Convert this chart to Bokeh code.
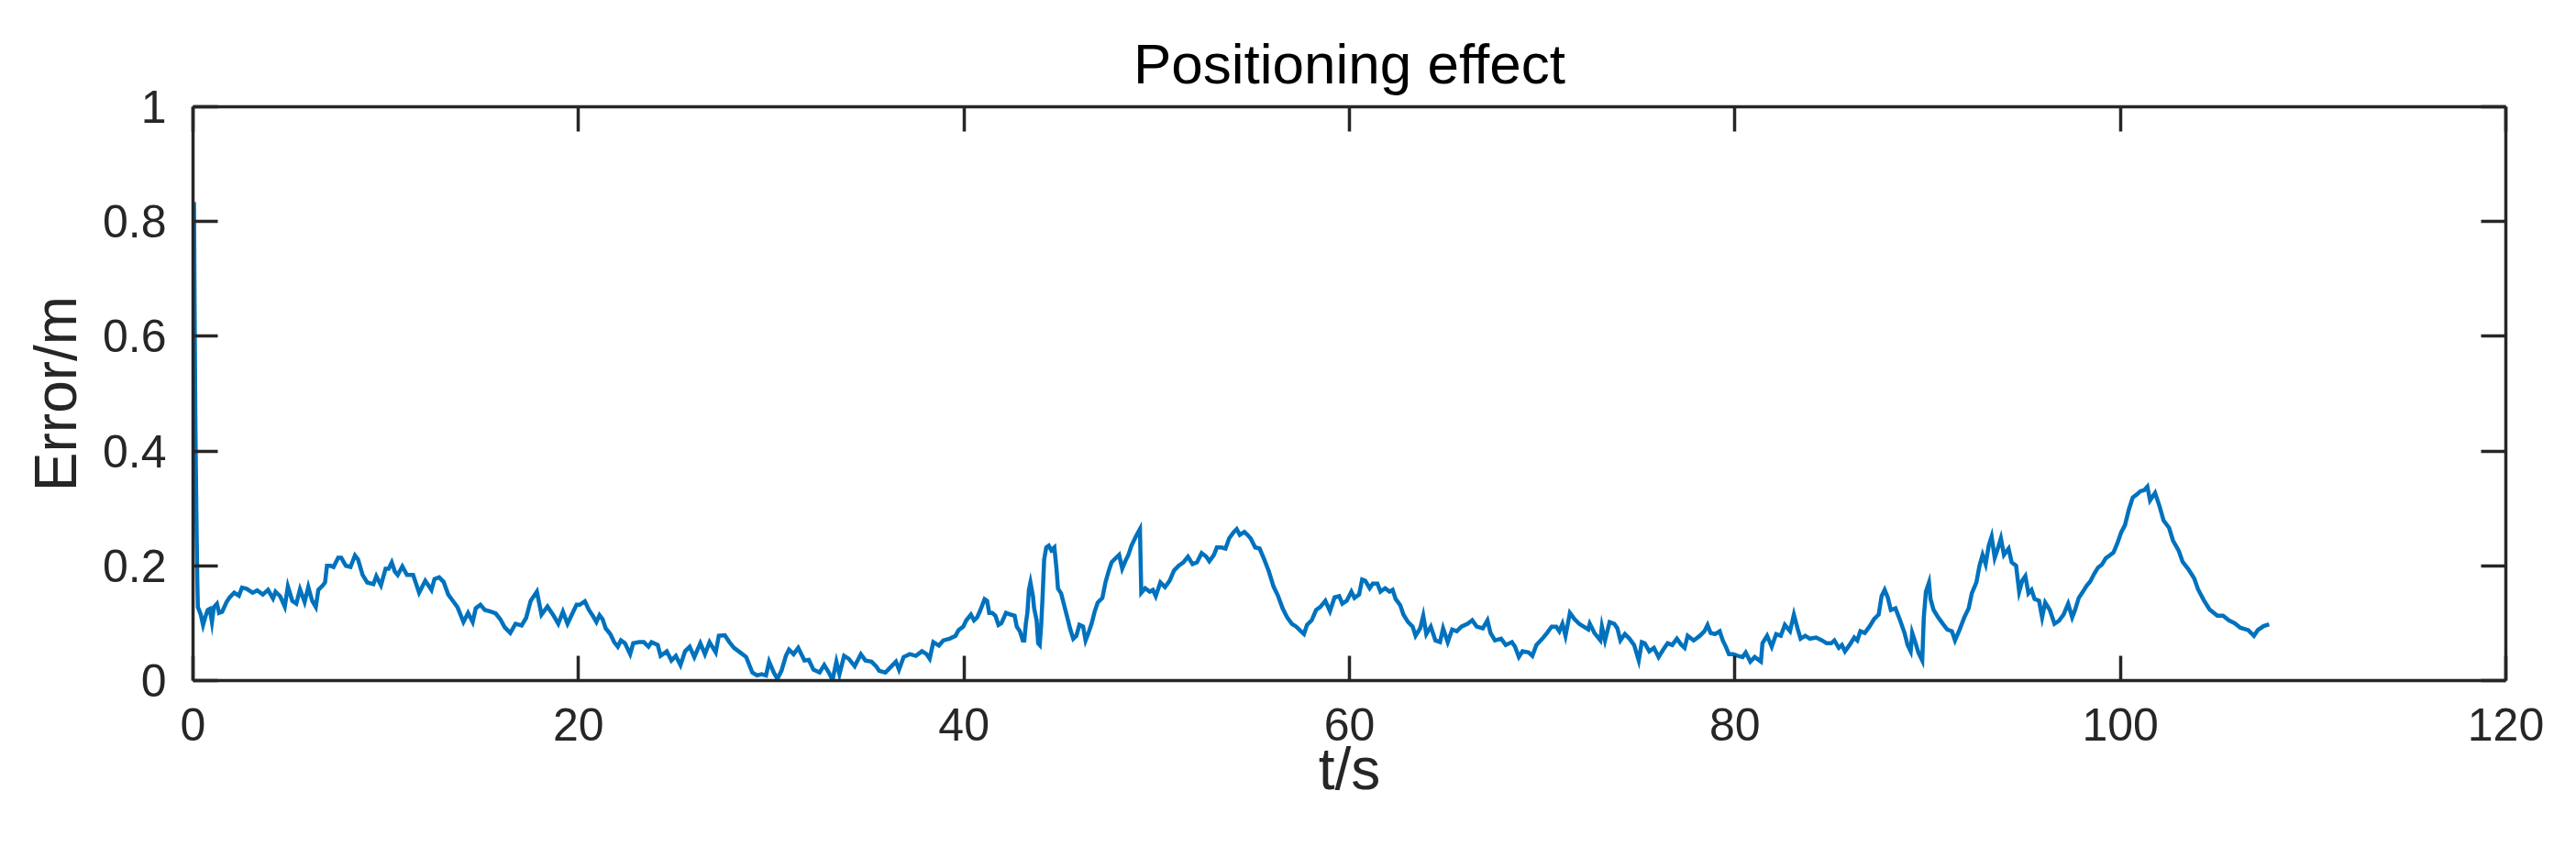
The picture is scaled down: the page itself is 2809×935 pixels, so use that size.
from bokeh.plotting import figure
from bokeh.models import Range1d, LinearAxis, FixedTicker, CustomJSTickFormatter, ColumnDataSource
from bokeh.embed import file_html
from bokeh.resources import INLINE

# ---- data (t in s, error in m) ----
seg_00_20 = [(0.05,0.834),(0.08,0.66),(0.12,0.46),(0.16,0.33),(0.19,0.25),(0.22,0.177),(0.25,0.128),
    (0.40,0.115),(0.52,0.097),(0.63,0.110),(0.76,0.123),(0.87,0.125),(0.98,0.102),(1.08,0.128),(1.24,0.134),
    (1.35,0.118),(1.51,0.120),(1.74,0.137),(1.90,0.145),(2.14,0.153),(2.38,0.148),(2.54,0.162),(2.78,0.160),
    (3.09,0.153),(3.33,0.157),(3.62,0.150),(3.89,0.158),(4.15,0.143),(4.28,0.155),(4.52,0.147),(4.76,0.129),
    (4.92,0.164),(5.15,0.139),(5.36,0.134),(5.55,0.159),(5.79,0.137),(5.98,0.163),(6.18,0.139),(6.37,0.128),
    (6.50,0.158),(6.74,0.166),(6.85,0.171),(6.95,0.200),(7.14,0.200),(7.29,0.198),(7.53,0.214),(7.69,0.214),
    (7.93,0.200),(8.17,0.198),(8.40,0.218),(8.56,0.211),(8.80,0.184),(9.04,0.171),(9.36,0.168),(9.51,0.182),
    (9.75,0.166),(9.99,0.195),(10.15,0.195),(10.31,0.206),(10.47,0.190),(10.62,0.184),(10.86,0.199),
    (11.10,0.184),(11.42,0.184),(11.73,0.153),(12.05,0.174),(12.37,0.158),(12.53,0.177),(12.77,0.180),
    (13.00,0.172),(13.24,0.150),(13.48,0.139),(13.72,0.128),(14.03,0.102),(14.27,0.118),(14.51,0.102),
    (14.67,0.126),(14.91,0.132),(15.14,0.123),(15.46,0.120),(15.70,0.117),(15.94,0.107),(16.17,0.093),
    (16.46,0.083),(16.73,0.099),(17.05,0.096),(17.28,0.109),(17.52,0.139),(17.84,0.155),(18.08,0.115),
    (18.39,0.129),(18.71,0.113),(18.95,0.099),(19.19,0.120),(19.43,0.099)]

seg_20_40 = [(19.74,0.121),(19.90,0.132),(20.06,0.132),(20.33,0.138),(20.54,0.123),(20.74,0.113),(20.93,0.102),
    (21.09,0.114),(21.25,0.107),(21.41,0.091),(21.65,0.081),(21.85,0.067),(22.04,0.059),(22.20,0.070),
    (22.41,0.065),(22.68,0.046),(22.84,0.065),(23.15,0.067),(23.39,0.067),(23.63,0.059),(23.79,0.067),
    (24.11,0.062),(24.26,0.043),(24.58,0.051),(24.82,0.035),(25.05,0.043),(25.29,0.027),(25.53,0.051),
    (25.77,0.059),(26.01,0.041),(26.32,0.065),(26.56,0.046),(26.80,0.067),(27.12,0.049),(27.28,0.078),
    (27.59,0.079),(27.83,0.067),(28.07,0.057),(28.39,0.049),(28.70,0.041),(29.02,0.014),(29.26,0.009),
    (29.50,0.011),(29.73,0.009),(29.89,0.033),(30.13,0.014),(30.32,0.003),(30.53,0.017),(30.76,0.043),
    (30.92,0.054),(31.16,0.046),(31.40,0.057),(31.72,0.035),(31.95,0.036),(32.19,0.019),(32.51,0.014),
    (32.75,0.027),(32.99,0.014),(33.18,0.001),(33.38,0.033),(33.54,0.011),(33.78,0.043),(34.02,0.038),
    (34.33,0.025),(34.65,0.046),(34.89,0.035),(35.20,0.033),(35.44,0.025),(35.60,0.017),(35.92,0.014),
    (36.24,0.025),(36.47,0.033),(36.63,0.019),(36.87,0.041),(37.19,0.046),(37.50,0.043),(37.82,0.051),
    (38.06,0.046),(38.22,0.038),(38.41,0.067),(38.70,0.061),(38.93,0.070)]

seg_40_60 = [(39.25,0.073),(39.56,0.078),(39.72,0.088),(39.96,0.094),(40.12,0.105),(40.36,0.115),(40.52,0.105),
    (40.68,0.110),(40.83,0.121),(41.07,0.142),(41.20,0.139),(41.31,0.118),(41.47,0.118),(41.63,0.113),
    (41.79,0.097),(41.94,0.100),(42.18,0.118),(42.42,0.115),(42.63,0.113),(42.74,0.094),(42.90,0.086),
    (43.05,0.070),(43.13,0.070),(43.21,0.099),(43.29,0.118),(43.37,0.158),(43.45,0.171),(43.58,0.147),
    (43.64,0.126),(43.77,0.105),(43.85,0.065),(43.93,0.062),(44.01,0.099),(44.08,0.147),(44.16,0.211),
    (44.27,0.232),(44.40,0.235),(44.53,0.227),(44.69,0.232),(44.80,0.195),(44.88,0.160),(45.04,0.152),
    (45.20,0.131),(45.36,0.110),(45.52,0.089),(45.67,0.073),(45.83,0.078),(45.99,0.097),(46.18,0.094),
    (46.31,0.070),(46.46,0.083),(46.62,0.099),(46.78,0.120),(46.94,0.136),(47.18,0.144),(47.34,0.171),
    (47.50,0.190),(47.66,0.206),(47.89,0.214),(48.05,0.219),(48.21,0.195),(48.37,0.208),(48.53,0.219),
    (48.69,0.235),(48.92,0.251),(49.13,0.264),(49.20,0.153),(49.40,0.161),(49.64,0.155),(49.80,0.158),
    (49.95,0.147),(50.19,0.171),(50.43,0.163),(50.67,0.174),(50.90,0.192),(51.14,0.200),(51.38,0.206),
    (51.62,0.216),(51.86,0.203),(52.09,0.206),(52.33,0.222),(52.57,0.216),(52.73,0.208),(52.97,0.219),
    (53.12,0.232),(53.36,0.232),(53.57,0.230),(53.76,0.248),(54.00,0.259),(54.15,0.264),(54.31,0.254),
    (54.55,0.259),(54.71,0.254),(54.87,0.248),(55.11,0.232),(55.34,0.230),(55.58,0.211),(55.82,0.190),
    (56.06,0.164),(56.29,0.148),(56.53,0.126),(56.77,0.110),(57.01,0.099),(57.24,0.094),(57.48,0.086),
    (57.64,0.081),(57.80,0.097),(58.04,0.105),(58.27,0.123),(58.48,0.128)]

seg_60_80 = [(58.75,0.139),(58.99,0.121),(59.23,0.145),(59.47,0.147),(59.63,0.134),(59.86,0.139),(60.10,0.155),
    (60.26,0.144),(60.50,0.150),(60.66,0.176),(60.82,0.174),(61.05,0.161),(61.21,0.169),(61.45,0.169),
    (61.61,0.155),(61.85,0.161),(62.08,0.155),(62.24,0.158),(62.40,0.142),(62.64,0.131),(62.80,0.115),
    (63.04,0.102),(63.28,0.094),(63.43,0.078),(63.67,0.091),(63.83,0.113),(63.99,0.081),(64.22,0.094),
    (64.46,0.070),(64.70,0.067),(64.86,0.091),(65.10,0.067),(65.33,0.089),(65.57,0.086),(65.81,0.094),
    (66.13,0.099),(66.37,0.105),(66.60,0.094),(66.92,0.091),(67.16,0.105),(67.32,0.083),(67.55,0.070),
    (67.87,0.073),(68.11,0.062),(68.43,0.067),(68.59,0.059),(68.79,0.041),(68.98,0.051),(69.30,0.049),
    (69.49,0.043),(69.70,0.062),(70.01,0.073),(70.25,0.083),(70.49,0.094),(70.73,0.094),(70.89,0.086),
    (71.05,0.099),(71.21,0.078),(71.44,0.118),(71.68,0.107),(71.92,0.099),(72.15,0.094),(72.39,0.089),
    (72.47,0.099),(72.71,0.083),(73.02,0.070),(73.10,0.094),(73.26,0.070),(73.50,0.102),(73.74,0.099),
    (73.90,0.091),(74.06,0.070),(74.29,0.081),(74.53,0.073),(74.77,0.062),(75.01,0.035),(75.17,0.067),
    (75.32,0.065),(75.56,0.051),(75.80,0.057),(76.04,0.041),(76.28,0.054),(76.51,0.065),(76.75,0.062),
    (76.99,0.073),(77.23,0.062),(77.39,0.057),(77.55,0.078),(77.86,0.070)]

seg_80_98 = [(78.18,0.078),(78.42,0.086),(78.58,0.097),(78.74,0.083),(78.97,0.081),(79.21,0.086),(79.37,0.070),
    (79.53,0.059),(79.69,0.046),(79.92,0.046),(80.16,0.043),(80.40,0.041),(80.56,0.049),(80.80,0.033),
    (81.03,0.041),(81.35,0.033),(81.43,0.065),(81.67,0.078),(81.91,0.059),(82.14,0.081),(82.38,0.078),
    (82.59,0.097),(82.86,0.086),(83.06,0.115),(83.25,0.091),(83.41,0.073),(83.65,0.078),(83.89,0.073),
    (84.21,0.075),(84.52,0.070),(84.76,0.065),(85.00,0.065),(85.16,0.070),(85.39,0.057),(85.55,0.062),
    (85.71,0.051),(85.95,0.062),(86.19,0.075),(86.35,0.070),(86.51,0.086),(86.74,0.083),(86.98,0.094),
    (87.22,0.107),(87.46,0.115),(87.61,0.147),(87.77,0.158),(87.93,0.145),(88.09,0.123),(88.33,0.126),
    (88.57,0.105),(88.80,0.083),(88.96,0.062),(89.12,0.051),(89.20,0.083),(89.36,0.067),(89.52,0.049),
    (89.72,0.035),(89.80,0.110),(89.91,0.155),(90.07,0.171),(90.15,0.142),(90.31,0.123),(90.55,0.110),
    (90.79,0.099),(91.02,0.089),(91.26,0.086),(91.42,0.070),(91.66,0.089),(91.90,0.110),(92.13,0.126),
    (92.29,0.152),(92.53,0.171),(92.69,0.200),(92.85,0.219),(93.01,0.203),(93.17,0.235),(93.32,0.251),
    (93.48,0.214),(93.64,0.230),(93.80,0.248),(93.96,0.219),(94.20,0.230),(94.36,0.206),(94.59,0.200),
    (94.75,0.155),(94.91,0.174),(95.07,0.182),(95.23,0.152),(95.39,0.158),(95.55,0.142),(95.78,0.139),
    (95.94,0.110),(96.10,0.136),(96.34,0.123),(96.58,0.099),(96.81,0.104),(97.05,0.115),(97.29,0.134),
    (97.50,0.110)]

seg_98_108 = [(97.64,0.122),(97.84,0.144),(98.04,0.154),(98.24,0.165),(98.44,0.173),(98.64,0.186),(98.84,0.197),
    (99.04,0.202),(99.24,0.213),(99.44,0.218),(99.64,0.223),(99.84,0.239),(100.04,0.258),(100.24,0.271),
    (100.44,0.298),(100.64,0.319),(100.84,0.324),(101.04,0.330),(101.24,0.332),(101.40,0.338),(101.54,0.314),
    (101.80,0.327),(102.04,0.303),(102.24,0.279),(102.53,0.266),(102.73,0.244),(103.03,0.226),(103.23,0.207),
    (103.53,0.194),(103.83,0.178),(104.03,0.159),(104.33,0.140),(104.63,0.124),(105.03,0.113),(105.33,0.113),
    (105.63,0.105),(105.93,0.100),(106.23,0.092),(106.63,0.088),(106.93,0.078),(107.13,0.088),(107.43,0.095),
    (107.72,0.098)]

x_ticks = [0, 20, 40, 60, 80, 100, 120]
y_ticks = [0, 0.2, 0.4, 0.6, 0.8, 1]
y_tick_labels = ["0", "0.2", "0.4", "0.6", "0.8", "1"]
title_text = "Positioning effect"
x_label = "t/s"
y_label = "Error/m"

points = seg_00_20 + seg_20_40 + seg_40_60 + seg_60_80 + seg_80_98 + seg_98_108
src = ColumnDataSource(dict(t=[p[0] for p in points], err=[p[1] for p in points]))

AX = "#262626"
FONT = "Liberation Sans"

p = figure(output_backend="svg", toolbar_location=None,
           frame_width=2522, frame_height=626,
           x_range=Range1d(0, 120), y_range=Range1d(0, 1),
           min_border_left=210, min_border_right=50, min_border_top=116, min_border_bottom=160,
           title=title_text)
p.background_fill_color = "white"
p.border_fill_color = "white"
p.outline_line_color = None
p.xgrid.visible = False
p.ygrid.visible = False

p.title.align = "center"
p.title.text_font = FONT
p.title.text_font_size = "62px"
p.title.text_font_style = "normal"
p.title.text_color = "black"
p.title.standoff = 25

p.line("t", "err", source=src, line_color="#0072BD", line_width=4.5, line_join="miter")

def style(ax, show_labels):
    ax.axis_line_color = AX
    ax.axis_line_width = 3.5
    ax.major_tick_line_color = AX
    ax.major_tick_line_width = 3.5
    ax.major_tick_in = 27
    ax.major_tick_out = 0
    ax.minor_tick_line_color = None
    ax.major_label_text_font = FONT
    ax.major_label_text_font_size = "50px"
    ax.major_label_text_color = AX
    ax.axis_label_text_font = FONT
    ax.axis_label_text_font_size = "64px"
    ax.axis_label_text_font_style = "normal"
    ax.axis_label_text_color = AX
    if not show_labels:
        ax.formatter = CustomJSTickFormatter(code="return ''")

xa = p.xaxis[0]
xa.ticker = FixedTicker(ticks=x_ticks)
xa.axis_label = x_label
xa.major_label_standoff = 30
xa.axis_label_standoff = -8
style(xa, True)

ya = p.yaxis[0]
ya.ticker = FixedTicker(ticks=y_ticks)
ya.major_label_overrides = {v: s for v, s in zip(y_ticks, y_tick_labels)}
ya.axis_label = y_label
ya.major_label_standoff = 29
ya.axis_label_standoff = 12
style(ya, True)

top = LinearAxis(ticker=FixedTicker(ticks=x_ticks))
style(top, False)
p.add_layout(top, "above")
right = LinearAxis(ticker=FixedTicker(ticks=y_ticks))
style(right, False)
p.add_layout(right, "right")

open("out.html", "w").write(file_html(p, INLINE))
